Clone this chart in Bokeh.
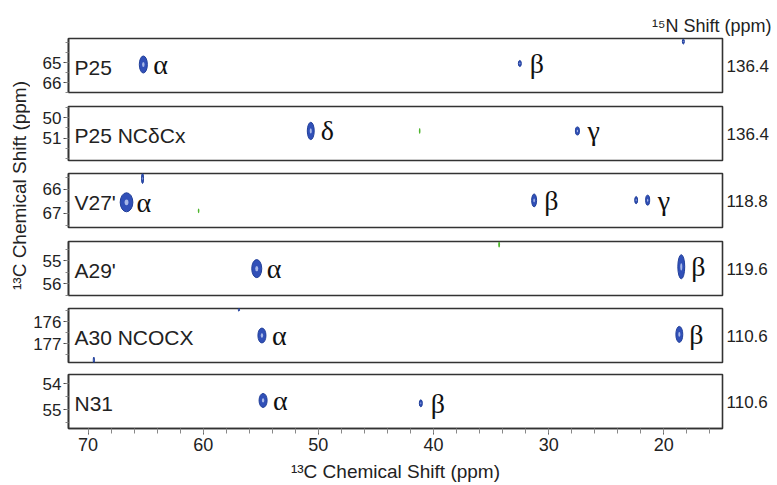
from math import pi, ceil, floor
from bokeh.plotting import figure
from bokeh.layouts import column, row
from bokeh.models import Range1d, Label, SingleIntervalTicker, FixedTicker, LinearAxis
from bokeh.embed import file_html
from bokeh.resources import INLINE

# ---------------- data ----------------
x_limits = (71.7, 14.9)                     # 13C shift, reversed
panel_names = ["P25", "P25 NCδCx", "V27'", "A29'", "A30 NCOCX", "N31"]
n15_shifts = ["136.4", "136.4", "118.8", "119.6", "110.6", "110.6"]
y_limits = [(66.5, 63.8), (52.1, 49.45), (67.6, 65.33),
            (56.5, 54.17), (177.86, 175.4), (55.73, 53.65)]
y_ticks = [[65, 66], [50, 51], [66, 67], [55, 56], [176, 177], [54, 55]]

# blue (positive) cross peaks: 13C x, 13C y, linewidth x, linewidth y, assignment
peak_x = [[65.2, 32.5, 18.3],
          [50.66, 27.5],
          [66.66, 65.27, 31.26, 22.4, 21.4],
          [55.35, 18.48],
          [54.9, 18.65, 69.5, 56.9],
          [54.8, 41.1]]
peak_y = [[65.1, 65.05, 63.95],
          [50.65, 50.65],
          [66.54, 65.54, 66.46, 66.45, 66.45],
          [55.34, 55.26],
          [176.63, 176.58, 177.75, 175.45],
          [54.65, 54.76]]
peak_wx = [[0.7, 0.26, 0.17],
           [0.6, 0.35],
           [1.1, 0.17, 0.43, 0.25, 0.35],
           [0.87, 0.6],
           [0.7, 0.6, 0.1, 0.1],
           [0.7, 0.26]]
peak_wy = [[0.85, 0.3, 0.25],
           [0.85, 0.4],
           [0.8, 0.42, 0.54, 0.3, 0.42],
           [0.78, 1.04],
           [0.68, 0.73, 0.27, 0.15],
           [0.54, 0.27]]
peak_label = [["α", "β", ""],
              ["δ", "γ"],
              ["α", "", "β", "", "γ"],
              ["α", "β"],
              ["α", "β", "", ""],
              ["α", "β"]]

# weak green (negative) peaks
neg_x = [[], [41.2], [60.4], [34.3], [], []]
neg_y = [[], [50.65], [66.9], [54.3], [], []]
neg_wx = [[], [0.14], [0.14], [0.17], [], []]
neg_wy = [[], [0.3], [0.2], [0.25], [], []]

# ---------------- style ----------------
SANS = "Liberation Sans"
SERIF = "Liberation Serif"
INK = "#222222"
BLUE = "#3150B8"
BLUE_EDGE = "#22409A"
BLUE_IN = "#A8B8E8"
GREEN = "#4FB52E"

FRAME_W = 654
FRAME_H = 54
LEFT_B = 38
RIGHT_B = 55
top_borders = [38, 6, 6, 6, 6, 6]
bottom_borders = [8, 7, 8, 7, 6, 56]
LEFT_W = 30
fig_w = LEFT_B + FRAME_W + RIGHT_B

xr = Range1d(*x_limits)
panels = []
for i in range(6):
    last = i == 5
    p = figure(width=fig_w, height=top_borders[i] + FRAME_H + bottom_borders[i],
               x_range=xr, y_range=Range1d(*y_limits[i]),
               x_axis_location="below" if last else None,
               output_backend="svg", toolbar_location=None,
               min_border_left=LEFT_B, min_border_right=RIGHT_B,
               min_border_top=top_borders[i], min_border_bottom=bottom_borders[i])
    p.grid.visible = False
    p.outline_line_color = "#333333"
    p.outline_line_width = 1.6
    p.background_fill_color = "white"

    lo, hi = sorted(y_limits[i])
    minors = [k / 2 for k in range(ceil(lo * 2), floor(hi * 2) + 1)]
    ya = p.yaxis[0]
    ya.ticker = FixedTicker(ticks=y_ticks[i], minor_ticks=minors)
    ya.axis_line_color = "#333333"
    ya.axis_line_width = 1.6
    ya.major_tick_in = 0
    ya.major_tick_out = 5
    ya.minor_tick_in = 0
    ya.minor_tick_out = 3
    ya.major_tick_line_color = "#444444"
    ya.minor_tick_line_color = "#888888"
    ya.major_label_standoff = 2
    ya.major_label_text_font = SANS
    ya.major_label_text_font_size = "17px"
    ya.major_label_text_color = INK

    # 15N plane of the strip, written on the right side
    ymid = (y_limits[i][0] + y_limits[i][1]) / 2
    ra = LinearAxis(ticker=FixedTicker(ticks=[ymid], minor_ticks=[]),
                    major_label_overrides={ymid: n15_shifts[i]})
    ra.axis_line_color = None
    ra.major_tick_line_color = None
    ra.minor_tick_line_color = None
    ra.major_tick_out = 0
    ra.major_tick_in = 0
    ra.major_label_standoff = 4
    ra.major_label_text_font = SANS
    ra.major_label_text_font_size = "17px"
    ra.major_label_text_color = INK
    p.add_layout(ra, "right")

    if i == 0:
        p.title.text = "¹⁵N Shift (ppm)"
        p.title.align = "right"
        p.title.offset = -49
        p.title.standoff = 6
        p.title.text_font = SANS
        p.title.text_font_size = "18px"
        p.title.text_font_style = "normal"
        p.title.text_color = INK

    if last:
        xa = p.xaxis[0]
        xa.ticker = SingleIntervalTicker(interval=10, num_minor_ticks=5)
        xa.axis_line_color = "#333333"
        xa.axis_line_width = 1.6
        xa.major_tick_in = 0
        xa.major_tick_out = 6
        xa.minor_tick_in = 0
        xa.minor_tick_out = 5
        xa.major_tick_line_color = "#444444"
        xa.minor_tick_line_color = "#888888"
        xa.major_label_standoff = 3
        xa.major_label_text_font = SANS
        xa.major_label_text_font_size = "18px"
        xa.major_label_text_color = INK
        xa.axis_label = "¹³C Chemical Shift (ppm)"
        xa.axis_label_standoff = 7
        xa.axis_label_text_font = SANS
        xa.axis_label_text_font_size = "19px"
        xa.axis_label_text_font_style = "normal"
        xa.axis_label_text_color = INK

    # peaks
    p.ellipse(x=peak_x[i], y=peak_y[i], width=peak_wx[i], height=peak_wy[i],
              fill_color=BLUE, line_color=BLUE_EDGE, line_width=1)
    inner_w = [w * 0.3 for w in peak_wx[i]]
    inner_h = [h * 0.3 for h in peak_wy[i]]
    p.ellipse(x=peak_x[i], y=peak_y[i], width=inner_w, height=inner_h,
              fill_color=BLUE_IN, line_color=None)
    if neg_x[i]:
        p.ellipse(x=neg_x[i], y=neg_y[i], width=neg_wx[i], height=neg_wy[i],
                  fill_color=GREEN, line_color=None)

    # assignment labels
    lx = [x for x, t in zip(peak_x[i], peak_label[i]) if t]
    ly = [y for y, t in zip(peak_y[i], peak_label[i]) if t]
    lt = [t for t in peak_label[i] if t]
    p.text(x=lx, y=ly, text=lt, x_offset=10,
           text_align="left", text_baseline="middle",
           text_font={"value": SERIF}, text_font_size="28px", text_color="#111111")

    p.add_layout(Label(x=x_limits[0], y=ymid, x_offset=6, y_offset=-2,
                       text=panel_names[i], text_align="left", text_baseline="middle",
                       text_font=SANS, text_font_size="21px", text_color=INK))
    panels.append(p)

total_h = sum(t + FRAME_H + b for t, b in zip(top_borders, bottom_borders))
left = figure(width=LEFT_W, height=total_h, x_range=Range1d(0, LEFT_W),
              y_range=Range1d(total_h, 0),
              x_axis_location=None, y_axis_location=None, min_border=0,
              output_backend="svg", toolbar_location=None)
left.grid.visible = False
left.outline_line_color = None
left.add_layout(Label(x=19, y=185, angle=pi / 2, text="¹³C Chemical Shift (ppm)",
                      text_align="center", text_baseline="middle",
                      text_font=SANS, text_font_size="19px", text_color=INK))

layout = row(left, column(*panels))
open("out.html", "w").write(file_html(layout, INLINE))
